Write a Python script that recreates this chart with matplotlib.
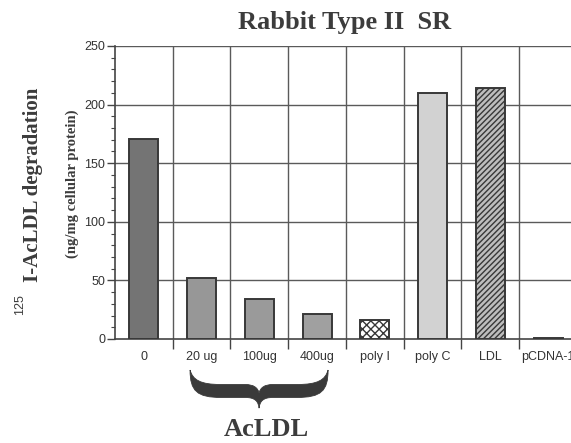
import matplotlib
matplotlib.use("Agg")
import matplotlib.pyplot as plt
from matplotlib.path import Path
from matplotlib.patches import PathPatch
from matplotlib.ticker import MultipleLocator
import numpy as np

categories = ["0", "20 ug", "100ug", "400ug", "poly I", "poly C", "LDL", "pCDNA-1"]
degradation = [171, 52, 34, 21, 16, 210, 214, 1]
bar_colors = ["#747474", "#979797", "#9a9a9a", "#a0a0a0", "#ffffff", "#d2d2d2", "#bdbdbd", "#888888"]
bar_hatches = [None, None, None, None, "xxxx", None, "//////", None]

plt.rcParams["hatch.linewidth"] = 1.0
plt.rcParams["hatch.color"] = "#3a3a3a"

fig = plt.figure(figsize=(5.71, 4.43), dpi=100)
ax = fig.add_axes([0.2014, 0.2348, 0.809, 0.6614])

x = np.arange(len(categories))
for xi, val, col, hatch in zip(x, degradation, bar_colors, bar_hatches):
    ax.bar(xi, val, width=0.5, color=col, edgecolor="#383838", linewidth=1.4,
           hatch=hatch, zorder=3)

ax.set_xlim(-0.5, len(categories) - 0.5)
ax.set_ylim(0, 250)

# grid: vertical lines at category boundaries, horizontal at 50s
for b in np.arange(0.5, len(categories) - 0.5, 1.0):
    ax.axvline(b, color="#5a5a5a", linewidth=1.0, zorder=1)
for yv in range(50, 251, 50):
    ax.axhline(yv, color="#5a5a5a", linewidth=1.0, zorder=1)

for side in ["top", "right"]:
    ax.spines[side].set_visible(False)
ax.spines["left"].set_color("#444444")
ax.spines["bottom"].set_color("#444444")
ax.spines["left"].set_linewidth(1.2)
ax.spines["bottom"].set_linewidth(1.2)

ax.yaxis.set_major_locator(MultipleLocator(50))
ax.yaxis.set_minor_locator(MultipleLocator(10))
ax.tick_params(axis="y", which="major", length=6, width=1.0, color="#444444",
               labelsize=9, labelcolor="#333333", pad=1)
ax.tick_params(axis="y", which="minor", length=3, width=0.8, color="#444444")

ax.set_xticks(x)
ax.set_xticklabels(categories, fontsize=9, color="#333333", family="Liberation Sans")
ax.tick_params(axis="x", which="major", length=0, pad=9)
ax.set_xticks(np.arange(0.5, len(categories) - 0.5, 1.0), minor=True)
ax.tick_params(axis="x", which="minor", length=7, width=1.0, color="#444444")
for lab in ax.get_yticklabels():
    lab.set_family("Liberation Sans")

fig.text(0.604, 0.95, "Rabbit Type II  SR", ha="center", va="center",
         fontsize=19, fontweight="bold", family="Liberation Serif", color="#3c3c3c")

fig.text(0.057, 0.582, "I-AcLDL degradation", rotation=90, ha="center", va="center",
         fontsize=15, fontweight="bold", family="Liberation Serif", color="#3c3c3c")
fig.text(0.035, 0.312, "125", rotation=90, ha="center", va="center",
         fontsize=9, family="Liberation Sans", color="#3c3c3c")
fig.text(0.126, 0.585, "(ng/mg cellular protein)", rotation=90, ha="center", va="center",
         fontsize=10.5, fontweight="bold", family="Liberation Serif", color="#3c3c3c")


# curly brace under the AcLDL doses
def brace_path(x0, x1, ytop, ybot):
    half = (x1 - x0) / 2
    xc = x0 + half
    h = ytop - ybot

    def pt(u, v):
        return (xc + u * half, ytop - v * h)

    verts = [
        pt(-1, 0),
        pt(-1, 0.55), pt(-0.9, 0.72), pt(-0.55, 0.72),
        pt(-0.2, 0.72),
        pt(-0.06, 0.72), pt(-0.01, 0.82), pt(0, 1.0),
        pt(0.01, 0.82), pt(0.06, 0.72), pt(0.2, 0.72),
        pt(0.55, 0.72),
        pt(0.9, 0.72), pt(1, 0.55), pt(1, 0),
        pt(0.96, 0.26), pt(0.85, 0.38), pt(0.55, 0.38),
        pt(0.2, 0.38),
        pt(0.08, 0.38), pt(0.02, 0.46), pt(0, 0.6),
        pt(-0.02, 0.46), pt(-0.08, 0.38), pt(-0.2, 0.38),
        pt(-0.55, 0.38),
        pt(-0.85, 0.38), pt(-0.96, 0.26), pt(-1, 0),
        pt(-1, 0),
    ]
    codes = ([Path.MOVETO] + [Path.CURVE4] * 3 + [Path.LINETO] + [Path.CURVE4] * 6
             + [Path.LINETO] + [Path.CURVE4] * 3 + [Path.CURVE4] * 3 + [Path.LINETO]
             + [Path.CURVE4] * 6 + [Path.LINETO] + [Path.CURVE4] * 3 + [Path.CLOSEPOLY])
    return Path(verts, codes)


brace = PathPatch(brace_path(0.8, 3.19, -26.5, -59), facecolor="#3a3a3a",
                  edgecolor="#3a3a3a", linewidth=0.6, clip_on=False, zorder=5)
ax.add_patch(brace)
ax.text(2.12, -77, "AcLDL", ha="center", va="center", fontsize=19,
        fontweight="bold", family="Liberation Serif", color="#3c3c3c", clip_on=False)

fig.savefig("out.png", dpi=100)
